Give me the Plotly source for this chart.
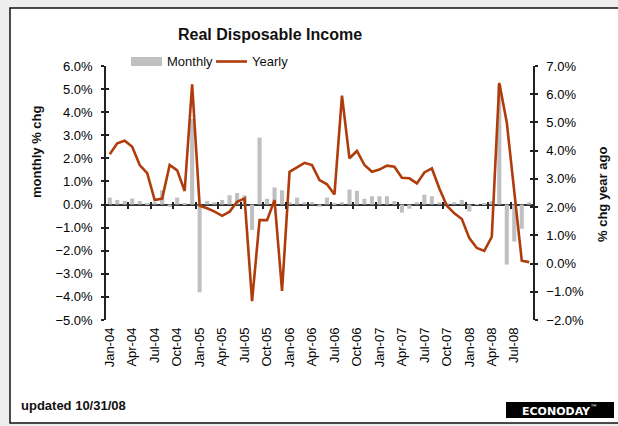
import pandas as pd
import plotly.graph_objects as go

# ---------------- data ----------------
months = [d.strftime("%b-%y") for d in pd.date_range("2004-01-01", "2008-09-01", freq="MS")]

monthly = [0.30, 0.20, 0.15, 0.26, 0.15, 0.05, 0.10, 0.62, -0.10, 0.30, 0.05, 3.70,
           -3.80, 0.15, 0.10, 0.20, 0.40, 0.50, 0.40, -1.10, 2.90, 0.25, 0.74, 0.62,
           0.10, 0.30, 0.10, 0.10, -0.10, 0.30, 0.07, 0.10, 0.65, 0.60, 0.25, 0.36,
           0.36, 0.36, 0.15, -0.35, -0.18, 0.10, 0.43, 0.36, 0.10, 0.05, 0.10, 0.20,
           -0.30, 0.02, 0.05, 0.15, 5.20, -2.60, -1.60, -1.05, 0.10]

yearly = [3.87, 4.26, 4.35, 4.14, 3.49, 3.20, 2.25, 2.30, 3.49, 3.30, 2.57, 6.35,
          2.05, 1.96, 1.84, 1.69, 1.84, 2.19, 2.31, -1.33, 1.54, 1.54, 2.25, -0.97,
          3.25, 3.40, 3.57, 3.49, 2.96, 2.81, 2.45, 5.95, 3.73, 3.99, 3.49, 3.25,
          3.33, 3.47, 3.43, 3.04, 3.02, 2.84, 3.23, 3.37, 2.66, 2.05, 1.78, 1.58,
          0.90, 0.55, 0.45, 0.95, 6.40, 5.00, 2.50, 0.10, 0.05]

tick_labels = months[::3]

# ---------------- layout helpers ----------------
W, H = 618, 426
L, R, T, B = 106, 533, 66, 320   # plot area in pixels


def px(x):
    return (x - L) / (R - L)


def py(y):
    return (B - y) / (B - T)


idx = list(range(len(months)))
tick_idx = idx[::3]
boundaries = [i + 2.5 for i in idx[::3] if i + 2.5 < len(months) - 1]

FONT = "Liberation Sans, Arial, sans-serif"
RED = "#B03C0C"
GRAY = "#C0C0C0"

fig = go.Figure()
fig.add_trace(go.Bar(x=idx, y=monthly, marker_color=GRAY, marker_line_width=0,
                     name="Monthly", yaxis="y", showlegend=False))
fig.add_trace(go.Scatter(x=idx, y=yearly, mode="lines", line=dict(color=RED, width=2.6),
                         name="Yearly", yaxis="y2", showlegend=False))
# empty traces to activate overlay axes used for crossing tick marks
for xa, ya in [("x2", "y"), ("x3", "y"), ("x", "y3"), ("x", "y4")]:
    fig.add_trace(go.Scatter(x=[None], y=[None], xaxis=xa, yaxis=ya, showlegend=False,
                             hoverinfo="skip"))

n = len(months)
zero_frac = 5 / 11
tick_font = dict(family=FONT, size=13, color="black")

fig.update_layout(
    width=W, height=H,
    margin=dict(l=L, r=W - R, t=T, b=H - B),
    paper_bgcolor="#EEEEEE",
    plot_bgcolor="white",
    bargap=0.45,
    showlegend=False,
    xaxis=dict(range=[-0.5, n - 0.5], tickvals=tick_idx, ticktext=tick_labels,
               tickangle=-90, ticks="", showgrid=False, zeroline=False, showline=False,
               tickfont=tick_font, ticklabelstandoff=4),
    xaxis2=dict(overlaying="x", anchor="free", position=zero_frac, range=[-0.5, n - 0.5],
                tickvals=boundaries, ticks="outside", ticklen=3, tickwidth=1.5,
                tickcolor="#222", showticklabels=False, showgrid=False, zeroline=False,
                showline=False),
    xaxis3=dict(overlaying="x", anchor="free", position=zero_frac, range=[-0.5, n - 0.5],
                tickvals=boundaries, ticks="inside", ticklen=3, tickwidth=1.5,
                tickcolor="#222", showticklabels=False, showgrid=False, zeroline=False,
                showline=False),
    yaxis=dict(range=[-5, 6], dtick=1, tickformat=".1f", ticksuffix="%",
               showgrid=False, zeroline=True, zerolinecolor="#333", zerolinewidth=1.5,
               showline=True, linecolor="#222", linewidth=1.5,
               ticks="outside", ticklen=3, tickwidth=1.5, tickcolor="#222",
               tickfont=tick_font, ticklabelstandoff=6),
    yaxis3=dict(overlaying="y", side="left", anchor="x", range=[-5, 6], dtick=1,
                ticks="inside", ticklen=3, tickwidth=1.5, tickcolor="#222",
                showticklabels=False, showgrid=False, zeroline=False, showline=False),
    yaxis2=dict(overlaying="y", side="right", anchor="x", range=[-2, 7], dtick=1,
                tickformat=".1f", ticksuffix="%", showgrid=False, zeroline=False,
                showline=True, linecolor="#222", linewidth=1.5,
                ticks="outside", ticklen=3, tickwidth=1.5, tickcolor="#222",
                tickfont=tick_font, ticklabelstandoff=6),
    yaxis4=dict(overlaying="y", side="right", anchor="x", range=[-2, 7], dtick=1,
                ticks="inside", ticklen=3, tickwidth=1.5, tickcolor="#222",
                showticklabels=False, showgrid=False, zeroline=False, showline=False),
)

shapes = [
    # white panel with frame
    dict(type="rect", xref="paper", yref="paper", x0=px(10), x1=px(640), y0=py(423), y1=py(8),
         fillcolor="white", line=dict(color="#111", width=1.5), layer="below"),
    # legend swatches
    dict(type="rect", xref="paper", yref="paper", x0=px(131), x1=px(162), y0=py(66), y1=py(57),
         fillcolor=GRAY, line=dict(width=0)),
    dict(type="line", xref="paper", yref="paper", x0=px(216), x1=px(247), y0=py(61.5), y1=py(61.5),
         line=dict(color=RED, width=2.6)),
    # logo box
    dict(type="rect", xref="paper", yref="paper", x0=px(506), x1=px(614), y0=py(418), y1=py(402),
         fillcolor="black", line=dict(width=0)),
]
fig.update_layout(shapes=shapes)

ann = [
    dict(text="<b>Real Disposable Income</b>", x=px(270), y=py(34),
         font=dict(family=FONT, size=16, color="#111")),
    dict(text="Monthly", x=px(165), y=py(61.5), xanchor="left",
         font=dict(family=FONT, size=13, color="#111")),
    dict(text="Yearly", x=px(250), y=py(61.5), xanchor="left",
         font=dict(family=FONT, size=13, color="#111")),
    dict(text="<b>monthly % chg</b>", x=px(36), y=py(152), textangle=-90,
         font=dict(family=FONT, size=13, color="#111")),
    dict(text="<b>% chg year ago</b>", x=px(602), y=py(195), textangle=-90,
         font=dict(family=FONT, size=13, color="#111")),
    dict(text="<b>updated 10/31/08</b>", x=px(19), y=py(405), xanchor="left",
         font=dict(family=FONT, size=13, color="#111")),
    dict(text="<b>ECONODAY</b><sup>™</sup>", x=px(560), y=py(410),
         font=dict(family="DejaVu Sans, sans-serif", size=11, color="white")),
]
for a in ann:
    a.update(xref="paper", yref="paper", showarrow=False)
    a.setdefault("xanchor", "center")
    a.setdefault("yanchor", "middle")
fig.update_layout(annotations=ann)

fig.write_html("out.html")
